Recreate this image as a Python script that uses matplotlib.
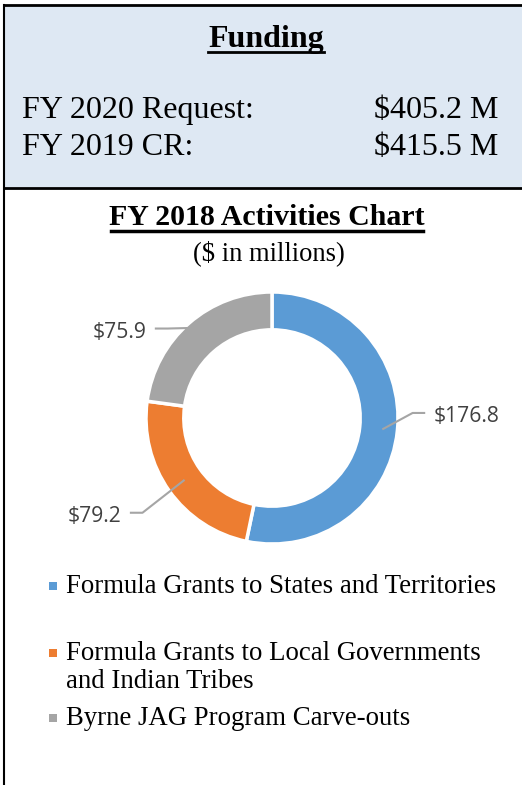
import numpy as np
import matplotlib
matplotlib.use("Agg")
import matplotlib.pyplot as plt
from matplotlib.patches import Rectangle

# funding summary
funding_rows = ["FY 2020 Request:", "FY 2019 CR:"]
funding_vals = ["$405.2 M", "$415.5 M"]

# FY 2018 activities ($ millions)
categories = ["Formula Grants to States and Territories",
              "Formula Grants to Local Governments\nand Indian Tribes",
              "Byrne JAG Program Carve-outs"]
amounts = [176.8, 79.2, 75.9]
colors = ["#5B9BD5", "#ED7D31", "#A5A5A5"]

W, H = 522, 785
fig = plt.figure(figsize=(W / 100, H / 100), dpi=100)
bg = fig.add_axes([0, 0, 1, 1])
bg.set_xlim(0, W)
bg.set_ylim(H, 0)
bg.axis("off")

serif = "Liberation Serif"

# top box
bg.add_patch(Rectangle((4, 5), W, 182, facecolor="#DEE8F3", edgecolor="none"))
bg.plot([4, W], [5, 5], color="black", lw=2)
bg.plot([4, W], [187.5, 187.5], color="black", lw=2)
bg.plot([4, 4], [5, H], color="black", lw=1.5)

bg.text(266, 47, "Funding", fontsize=23, fontweight="bold", family=serif,
        ha="center", va="baseline")
bg.plot([208, 324], [52, 52], color="black", lw=2)

for i, (row, val) in enumerate(zip(funding_rows, funding_vals)):
    y = 118 + i * 37
    bg.text(22, y, row, fontsize=23, family=serif, va="baseline")
    bg.text(498, y, val, fontsize=23, family=serif, va="baseline", ha="right")

bg.text(267, 225, "FY 2018 Activities Chart", fontsize=21.5, fontweight="bold",
        family=serif, ha="center", va="baseline")
bg.plot([111, 423], [230.5, 230.5], color="black", lw=2.5)
bg.text(269, 260, "($ in millions)", fontsize=19.1, family=serif,
        ha="center", va="baseline")

# donut
cx, cy, R = 272, 418, 126
ax = fig.add_axes([(cx - R) / W, (H - cy - R) / H, 2 * R / W, 2 * R / H])
wedges, _ = ax.pie(amounts, colors=colors, startangle=90, counterclock=False,
                   radius=1, wedgeprops=dict(width=0.3, edgecolor="white", linewidth=2.5))
ax.set_xlim(-1, 1)
ax.set_ylim(-1, 1)
ax.axis("off")

label_xy = [(1.286, 0.03), (-1.198, -0.762), (-1.0, 0.70)]
lead_r = [0.88, 0.85, 0.95]
for w, amt, (lx, ly), r in zip(wedges, amounts, label_xy, lead_r):
    mid = np.deg2rad((w.theta1 + w.theta2) / 2)
    px, py = r * np.cos(mid), r * np.sin(mid)
    s = 1 if lx > 0 else -1
    end_x = lx - s * 0.07
    elb_x = end_x - s * 0.10
    ax.plot([px, elb_x, end_x], [py, ly + 0.01, ly + 0.01], color="#A5A5A5", lw=1.5,
            clip_on=False, solid_capstyle="butt")
    ax.text(lx, ly - 0.02, f"${amt:.1f}", fontsize=15.2, family="Open Sans",
            color="#404040", ha="left" if s > 0 else "right", va="center",
            clip_on=False)

# legend
leg_y = [593, 660, 725]
for cat, col, y in zip(categories, colors, leg_y):
    bg.add_patch(Rectangle((49, y - 11), 8, 8, facecolor=col, edgecolor="none"))
    for k, line in enumerate(cat.split("\n")):
        bg.text(66, y + 28 * k, line, fontsize=19.3, family=serif,
                va="baseline", ha="left")

fig.savefig("out.png", dpi=100)
